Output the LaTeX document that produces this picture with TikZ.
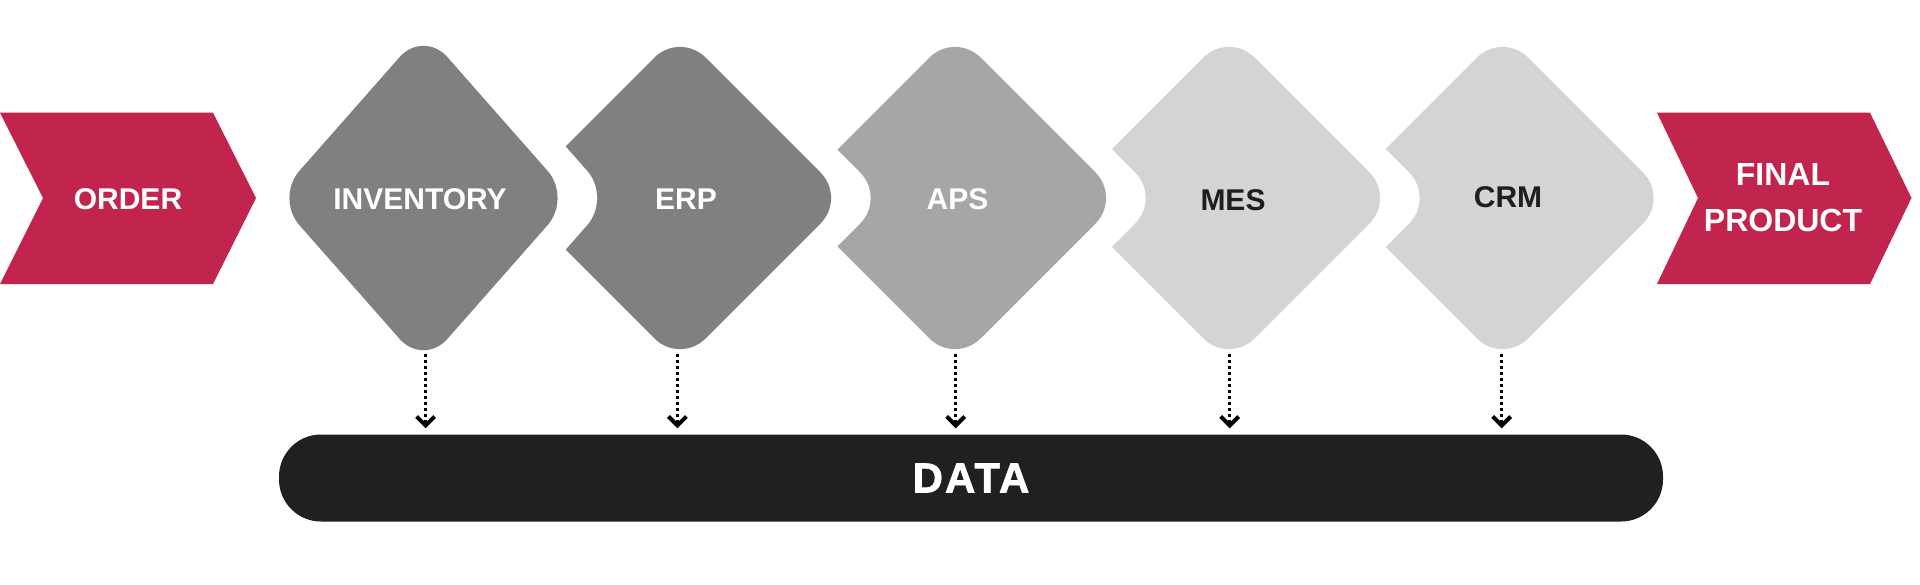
\documentclass[tikz,border=0pt]{standalone}
\usepackage{fontspec}
\setmainfont{Liberation Sans}
\usetikzlibrary{arrows.meta}
\definecolor{gdark}{RGB}{128,128,128}
\definecolor{gmid}{RGB}{166,166,166}
\definecolor{glight}{RGB}{212,212,212}
\definecolor{redc}{RGB}{193,36,77}
\definecolor{barc}{RGB}{32,32,32}
\definecolor{txtdark}{RGB}{30,30,30}
% diamond path: cx, cy, half-width, half-height
\newcommand\dmdpath[4]{(#1-#3/2,#2-#4/2) -- (#1,#2-#4) -- (#1+#3,#2) -- (#1,#2+#4) -- (#1-#3,#2) -- cycle}
\tikzset{
  dmd/.style={rounded corners=36pt},
  lbl/.style={font=\fontsize{30}{36}\selectfont\bfseries, text=white, inner sep=0pt},
  lbldark/.style={lbl, text=txtdark},
  chev/.style={fill=redc},
  flow/.style={line width=3.4pt, dash pattern=on 3pt off 3pt, -{Straight Barb[length=9pt,width=18pt,line width=4pt]}, shorten >=6pt},
  databar/.style={fill=barc, rounded corners=42pt, minimum width=1384pt, minimum height=87pt, inner sep=0pt,
    text=white, font=\fontsize{42}{50}\selectfont\bfseries\addfontfeature{LetterSpace=5,FakeBold=1.6}}
}
\begin{document}
\begin{tikzpicture}[x=1pt,y=-1pt]
\useasboundingbox (0,0) rectangle (1920,584);
\fill[white] (0,0) rectangle (1920,584);
% diamonds, right to left, each cut by a shifted white copy of its left neighbour
\fill[dmd, glight] \dmdpath{1502.5}{198}{166}{166};
\fill[dmd, white, xshift=39.5pt] \dmdpath{1229}{198}{166}{166};
\fill[dmd, glight] \dmdpath{1229}{198}{166}{166};
\fill[dmd, white, xshift=39.5pt] \dmdpath{955}{198}{166}{166};
\fill[dmd, gmid] \dmdpath{955}{198}{166}{166};
\fill[dmd, white, xshift=39.5pt] \dmdpath{680}{198}{166}{166};
\fill[dmd, gdark] \dmdpath{680}{198}{166}{166};
\fill[dmd, white, xshift=39.5pt] \dmdpath{423.5}{198}{148}{168};
\fill[dmd, gdark] \dmdpath{423.5}{198}{148}{168};
% chevrons
\fill[chev] (0,112.7) -- (213,112.7) -- (256,198) -- (213,284) -- (0,284) -- (43,198) -- cycle;
\fill[chev] (1657,112.7) -- (1870,112.7) -- (1911.5,198) -- (1870,284) -- (1657,284) -- (1698,198) -- cycle;
% labels
\node[lbl] (order) at (128,199) {ORDER};
\node[lbl] (inv) at (420,199) {INVENTORY};
\node[lbl] (erp) at (686,199) {ERP};
\node[lbl] (aps) at (957.5,199) {APS};
\node[lbldark] (mes) at (1233,200.5) {MES};
\node[lbldark] (crm) at (1508,197.5) {CRM};
\node[lbl, font=\fontsize{32}{46}\selectfont\bfseries, align=center] (final) at (1783,197.5) {FINAL\\PRODUCT};
% data bar
\node[databar] (data) at (971,478) {DATA};
% arrows
\coordinate (a1) at (425.6,354);
\coordinate (a2) at (677.4,354);
\coordinate (a3) at (955.7,354);
\coordinate (a4) at (1229.7,354);
\coordinate (a5) at (1501.7,354);
\foreach \a in {a1,a2,a3,a4,a5}{\draw[flow] (\a) -- (\a |- data.north);}
\end{tikzpicture}
\end{document}
